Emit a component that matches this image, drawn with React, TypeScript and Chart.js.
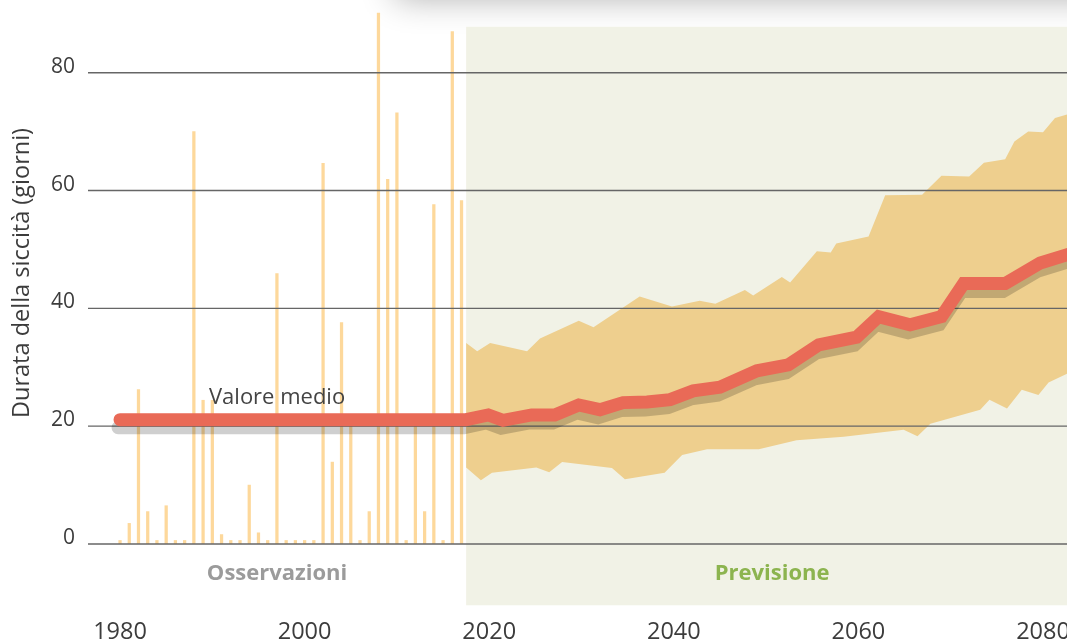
import { useEffect, useRef } from "react";
import { Chart, registerables } from "chart.js";

Chart.register(...registerables);

// ---- Data ----
const obsYears = [
  1980, 1981, 1982, 1983, 1984, 1985, 1986, 1987, 1988, 1989,
  1990, 1991, 1992, 1993, 1994, 1995, 1996, 1997, 1998, 1999,
  2000, 2001, 2002, 2003, 2004, 2005, 2006, 2007, 2008, 2009,
  2010, 2011, 2012, 2013, 2014, 2015, 2016, 2017,
];
const obsValues = [
  0.6, 3.5, 26.2, 5.5, 0.6, 6.5, 0.6, 0.6, 70.0, 24.4,
  24.4, 1.6, 0.6, 0.6, 10.0, 1.9, 0.6, 45.9, 0.6, 0.6,
  0.6, 0.6, 64.6, 13.9, 37.6, 20.0, 0.6, 5.5, 90.1, 61.9,
  73.2, 0.6, 20.3, 5.5, 57.6, 0.6, 87.0, 58.3,
];

const meanYears = [
  1980, 2017.5, 2019.9, 2021.5, 2024.6, 2027.1, 2029.7, 2032.0, 2034.5, 2037.1,
  2039.6, 2042.1, 2045.0, 2049.0, 2052.4, 2055.7, 2059.8, 2062.2, 2065.6, 2069.0,
  2071.4, 2075.9, 2079.7, 2083.0,
];
const meanValues = [
  21.1, 21.1, 21.9, 21.0, 21.9, 21.9, 23.6, 22.8, 24.0, 24.1,
  24.5, 26.0, 26.6, 29.4, 30.4, 33.8, 35.1, 38.6, 37.2, 38.6,
  44.2, 44.2, 47.7, 49.3,
];

const upperYears = [
  2017.5, 2018.7, 2020.1, 2024.1, 2025.5, 2029.7, 2031.3, 2036.3, 2039.8, 2042.8,
  2044.5, 2047.7, 2048.6, 2051.7, 2052.6, 2055.5, 2057.0, 2057.6, 2061.1, 2062.9,
  2066.9, 2069.0, 2072.0, 2073.6, 2075.9, 2076.9, 2078.4, 2080.0, 2081.3, 2083.0,
];
const upperValues = [
  34.1, 32.7, 34.1, 32.7, 34.9, 37.9, 36.8, 42.0, 40.3, 41.3,
  40.8, 43.1, 42.2, 45.3, 44.4, 49.7, 49.5, 51.0, 52.2, 59.2,
  59.3, 62.5, 62.4, 64.7, 65.3, 68.3, 70.0, 69.9, 72.3, 73.1,
];

const lowerYears = [
  2017.5, 2019.1, 2020.3, 2025.1, 2026.5, 2027.9, 2033.3, 2034.7, 2039.0, 2040.9,
  2043.6, 2049.2, 2053.3, 2058.4, 2064.9, 2066.4, 2067.8, 2073.2, 2074.2, 2076.1,
  2077.7, 2079.5, 2080.6, 2083.0,
];
const lowerValues = [
  13.0, 10.8, 12.1, 13.0, 12.2, 13.9, 12.9, 11.0, 12.1, 15.1,
  16.1, 16.1, 17.6, 18.2, 19.4, 18.3, 20.4, 22.8, 24.5, 23.0,
  26.2, 25.3, 27.4, 29.2,
];

const yTicks = [0, 20, 40, 60, 80];
const xTicks = [1980, 2000, 2020, 2040, 2060, 2080];
const projectionStart = 2017.5;
const projectionEnd = 2083.8;

const yTitle = "Durata della siccità (giorni)";
const meanLabel = "Valore medio";
const obsLabel = "Osservazioni";
const projLabel = "Previsione";

// ---- Styles ----
const FONT = '"Open Sans", "Noto Sans", sans-serif';
const RED = "#e96a57";
const BAND = "#eecf8e";
const BAR = "#fdd89b";
const GREEN_BG = "#f1f2e6";
const GRID = "#666666";
const TEXT = "#3c3c3c";

export default function App() {
  const canvasRef = useRef<HTMLCanvasElement | null>(null);

  useEffect(() => {
    document.body.style.margin = "0";
    document.body.style.overflow = "hidden";
    const canvas = canvasRef.current;
    if (!canvas) return;

    const bandPoints = [
      ...upperYears.map((x, i) => ({ x, y: upperValues[i] })),
      ...lowerYears.map((x, i) => ({ x, y: lowerValues[i] })).reverse(),
    ];

    const decor = {
      id: "decor",
      beforeDraw(chart: any) {
        const { ctx, scales } = chart;
        const xs = scales.x;
        const ys = scales.y;
        // soft shadow of a card above the chart
        ctx.save();
        ctx.shadowColor = "rgba(0,0,0,0.32)";
        ctx.shadowBlur = 32;
        ctx.shadowOffsetY = 2;
        ctx.fillStyle = "#ffffff";
        ctx.fillRect(395, -300, 900, 296);
        ctx.restore();
        // projection background
        const x0 = xs.getPixelForValue(projectionStart);
        const x1 = xs.getPixelForValue(projectionEnd);
        const y0 = ys.getPixelForValue(87.8);
        const y1 = ys.getPixelForValue(-10.4);
        ctx.save();
        ctx.fillStyle = GREEN_BG;
        ctx.fillRect(x0, y0, x1 - x0, y1 - y0);
        ctx.restore();
      },
      beforeDatasetDraw(chart: any, args: any) {
        if (args.index === 0) {
          const ctx = chart.ctx;
          ctx.save();
          ctx.shadowColor = "rgba(0,0,0,0.19)";
          ctx.shadowBlur = 0;
          ctx.shadowOffsetX = -2;
          ctx.shadowOffsetY = 8;
        }
      },
      afterDatasetDraw(chart: any, args: any) {
        const ctx = chart.ctx;
        if (args.index === 0) {
          ctx.restore();
        } else if (args.index === 1) {
          const { chartArea, scales } = chart;
          ctx.save();
          ctx.strokeStyle = GRID;
          ctx.lineWidth = 1.4;
          for (const v of yTicks) {
            const y = scales.y.getPixelForValue(v);
            ctx.beginPath();
            ctx.moveTo(chartArea.left, y);
            ctx.lineTo(chartArea.right, y);
            ctx.stroke();
          }
          ctx.restore();
        }
      },
      afterDatasetsDraw(chart: any) {
        const { ctx, scales, chartArea } = chart;
        const xs = scales.x;
        const ys = scales.y;
        const x0 = xs.getPixelForValue(projectionStart);
        const x1 = xs.getPixelForValue(projectionEnd);
        const obsCenter = (chartArea.left + x0) / 2;
        const projCenter = (x0 + x1) / 2;
        ctx.save();
        ctx.textAlign = "center";
        ctx.textBaseline = "middle";
        ctx.fillStyle = "#444444";
        ctx.font = `22px ${FONT}`;
        ctx.fillText(meanLabel, obsCenter, ys.getPixelForValue(meanValues[0]) - 22);
        ctx.font = `bold 22px ${FONT}`;
        const ly = ys.getPixelForValue(-5.1);
        ctx.fillStyle = "#9b9b9b";
        ctx.fillText(obsLabel, obsCenter, ly);
        ctx.fillStyle = "#8cb44f";
        ctx.fillText(projLabel, projCenter, ly);
        ctx.restore();
      },
    };

    const chart = new Chart(canvas, {
      type: "line",
      data: {
        datasets: [
          {
            type: "line",
            label: "mean",
            data: meanYears.map((x, i) => ({ x, y: meanValues[i] })),
            borderColor: RED,
            borderWidth: 13,
            borderCapStyle: "round",
            borderJoinStyle: "miter",
            pointRadius: 0,
            fill: false,
            tension: 0,
            order: 1,
          },
          {
            type: "line",
            label: "band",
            data: bandPoints,
            borderWidth: 0,
            borderColor: "rgba(0,0,0,0)",
            backgroundColor: BAND,
            fill: "shape",
            pointRadius: 0,
            tension: 0,
            order: 3,
          },
          {
            type: "bar",
            label: "obs",
            data: obsYears.map((x, i) => ({ x, y: obsValues[i] })),
            backgroundColor: BAR,
            barThickness: 2.6,
            order: 4,
          },
        ],
      } as any,
      options: {
        responsive: false,
        animation: false,
        events: [],
        layout: { padding: { top: 2, left: 0, right: 0, bottom: 0 } },
        plugins: { legend: { display: false }, tooltip: { enabled: false } },
        scales: {
          x: {
            type: "linear",
            min: 1976.53,
            max: 2082.6,
            offset: false,
            grid: { display: false, drawTicks: false, offset: false },
            border: { display: false },
            afterBuildTicks: (s: any) => {
              s.ticks = xTicks.map((v) => ({ value: v }));
            },
            afterFit: (s: any) => {
              s.height = 99;
              s.paddingLeft = 0;
              s.paddingRight = 0;
            },
            ticks: {
              font: { family: FONT, size: 23.5 },
              color: TEXT,
              padding: 74,
              maxRotation: 0,
              minRotation: 0,
              autoSkip: false,
              callback: (v: any) => String(v),
            },
          },
          y: {
            type: "linear",
            min: 0,
            max: 92,
            grid: { display: false, drawTicks: false },
            border: { display: false },
            afterBuildTicks: (s: any) => {
              s.ticks = yTicks.map((v) => ({ value: v }));
            },
            afterFit: (s: any) => {
              s.width = 88;
              s.paddingTop = 0;
              s.paddingBottom = 0;
            },
            ticks: {
              font: { family: FONT, size: 21 },
              color: TEXT,
              padding: 13,
              labelOffset: -6,
              callback: (v: any) => String(v),
            },
            title: {
              display: true,
              text: yTitle,
              font: { family: FONT, size: 23.5 },
              color: TEXT,
              padding: { top: 8, bottom: 0 },
            },
          },
        },
      } as any,
      plugins: [decor],
    });

    return () => chart.destroy();
  }, []);

  return (
    <canvas
      ref={canvasRef}
      width={1067}
      height={643}
      style={{ display: "block", width: "1067px", height: "643px" }}
    />
  );
}
